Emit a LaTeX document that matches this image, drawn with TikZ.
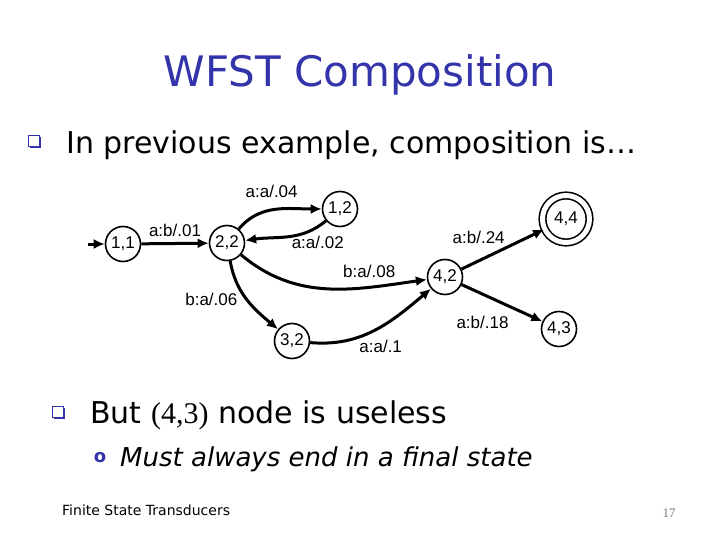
\documentclass[tikz,border=0pt]{standalone}
\usepackage{fontspec}
\setmainfont{DejaVu Sans}
\newfontfamily\lblfont{Liberation Sans}
\newfontfamily\serfont{Liberation Serif}
\usetikzlibrary{arrows.meta,shadows,positioning}
\definecolor{slideblue}{RGB}{51,51,170}
\definecolor{numgray}{RGB}{120,120,120}

\begin{document}
\begin{tikzpicture}[x=1pt,y=-1pt,
  st/.style={draw,circle,line width=1.6pt,minimum size=35pt,inner sep=0pt,
    font=\lblfont\fontsize{17}{17}\selectfont},
  fin/.style={st,minimum size=47pt,double,double distance=5pt},
  lbl/.style={font=\lblfont\fontsize{17}{17}\selectfont,inner sep=2pt},
  tr/.style={-{Latex[length=11pt,width=10pt]},line width=3pt},
  bul/.style={draw=slideblue,fill=white,line width=1pt,minimum size=11pt,inner sep=0pt,
    drop shadow={shadow xshift=1.8pt,shadow yshift=-1.8pt,fill=slideblue,opacity=1}},
  txt/.style={anchor=west,inner sep=0pt}
]
\useasboundingbox (0,0) rectangle (720,540);

% slide text
\node[slideblue,font=\fontsize{42}{42}\selectfont] (title) at (360,75) {WFST Composition};
\node[bul] (b1) at (34,141) {};
\node[txt,font=\fontsize{30}{30}\selectfont] (t1) at (66,145) {In previous example, composition is…};

% states
\node[st] (n11) at (123,244) {1,1};
\node[st] (n22) at (227,243) {2,2};
\node[st] (n12) at (340,209) {1,2};
\node[fin] (n44) at (566,219) {4,4};
\node[st] (n42) at (445,277) {4,2};
\node[st] (n32) at (292,341) {3,2};
\node[st] (n43) at (559,329) {4,3};
\coordinate (start) at (88,244);

% transitions
\draw[tr] (start) -- (n11);
\draw[tr] (n11) -- node[lbl,above=3pt] {a:b/.01} (n22);
\draw[tr] (n22) to[out=50,in=180] node[lbl,pos=0.45,above=9pt] {a:a/.04} (n12);
\draw[tr] (n12) to[out=220,in=8] node[lbl,pos=0.5,below right=-4pt and 0pt] {a:a/.02} (n22);
\draw[tr] (n22) to[out=-40,in=188] node[lbl,pos=0.72,above=6pt] {b:a/.08} (n42);
\draw[tr] (n22) to[out=-80,in=140] node[lbl,pos=0.5,left=6pt] {b:a/.06} (n32);
\draw[tr] (n32) to[out=-5,in=220] node[lbl,pos=0.55,below=10pt] {a:a/.1} (n42);
\draw[tr] (n42) -- node[lbl,pos=0.42,above left=5pt and -12pt] {a:b/.24} (n44);
\draw[tr] (n42) -- node[lbl,pos=0.5,below left=10pt and -10pt] {a:b/.18} (n43);

% more slide text
\node[bul] (b2) at (58,412) {};
\node[txt,font=\fontsize{30}{30}\selectfont] (t2) at (90,415) {But {\serfont(4,3)} node is useless};
\node[slideblue,font=\bfseries\fontsize{18}{18}\selectfont,inner sep=0pt] (b3) at (100,458) {o};
\node[txt,font=\itshape\fontsize{26}{26}\selectfont] (t3) at (120,459) {Must always end in a final state};
\node[txt,font=\fontsize{14}{14}\selectfont] (foot) at (62,510) {Finite State Transducers};
\node[numgray,font=\serfont\fontsize{13}{13}\selectfont] (page) at (669,513) {17};
\end{tikzpicture}
\end{document}
